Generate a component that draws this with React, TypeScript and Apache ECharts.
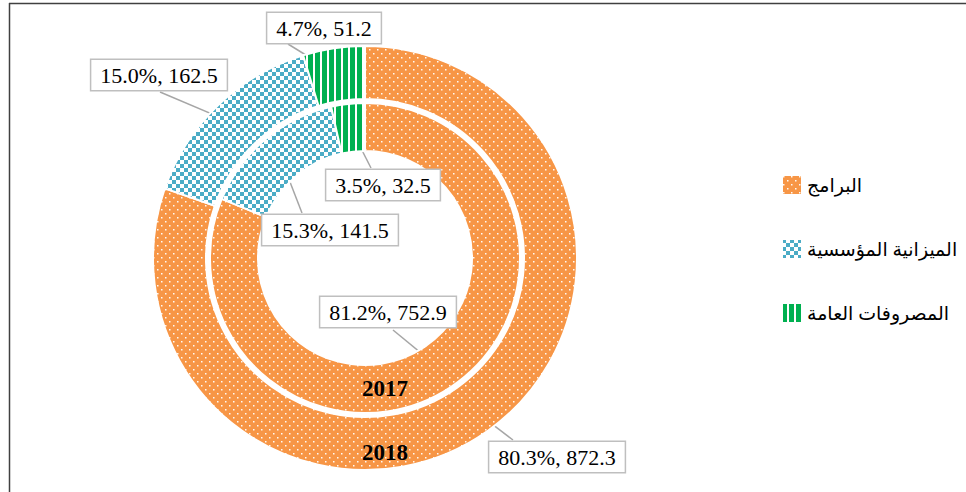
import React, { useEffect, useRef } from "react";
import * as echarts from "echarts";

const categories = ["البرامج", "الميزانية المؤسسية", "المصروفات العامة"];
const values2018 = [872.3, 162.5, 51.2];
const values2017 = [752.9, 141.5, 32.5];
const yearLabels = ["2018", "2017"];

// style / layout configuration (not data)
const CENTER = [365, 258];
const OUTER_RADIUS = [159, 212];
const INNER_RADIUS = [107, 155];
// label box centres and leader-line end points, per series (outer, inner) and data index
const LABEL_STYLE_POS = [
  [
    { x: 557, y: 457, ex: 513, ey: 440 },
    { x: 159, y: 75, ex: 160, ey: 92 },
    { x: 324, y: 28, ex: 288, ey: 44 },
  ],
  [
    { x: 388, y: 312, ex: 393, ey: 330 },
    { x: 330, y: 230, ex: 302, ey: 213 },
    { x: 383, y: 185, ex: 371, ey: 168 },
  ],
];

function makeCanvas(w: number, h: number, scale: number, draw: (ctx: CanvasRenderingContext2D) => void) {
  const c = document.createElement("canvas");
  c.width = w * scale;
  c.height = h * scale;
  const ctx = c.getContext("2d")!;
  ctx.scale(scale, scale);
  draw(ctx);
  return { image: c, repeat: "repeat", imageWidth: w, imageHeight: h };
}

function patterns() {
  const orange = makeCanvas(8, 8, 4, (ctx) => {
    ctx.fillStyle = "#F79646";
    ctx.fillRect(0, 0, 8, 8);
    ctx.fillStyle = "rgba(255,255,255,0.95)";
    ctx.fillRect(1, 1, 1.5, 1.5);
    ctx.fillRect(5, 5, 1.5, 1.5);
  });
  const blue = makeCanvas(8, 8, 1, (ctx) => {
    ctx.fillStyle = "#FFFFFF";
    ctx.fillRect(0, 0, 8, 8);
    ctx.fillStyle = "#4BACC6";
    ctx.fillRect(0, 0, 4, 4);
    ctx.fillRect(4, 4, 4, 4);
  });
  const green = makeCanvas(7, 7, 1, (ctx) => {
    ctx.fillStyle = "#00B050";
    ctx.fillRect(0, 0, 7, 7);
    ctx.fillStyle = "#FFFFFF";
    ctx.fillRect(5, 0, 2, 7);
  });
  return [orange, blue, green];
}

export default function App() {
  const ref = useRef<HTMLDivElement>(null);

  useEffect(() => {
    if (!ref.current) return;
    const chart = echarts.init(ref.current, undefined, { renderer: "svg" });
    const fills = patterns();
    const seriesValues = [values2018, values2017];
    const radii = [OUTER_RADIUS, INNER_RADIUS];

    const midPoint = (si: number, di: number) => {
      const vals = seriesValues[si];
      const total = vals.reduce((a, b) => a + b, 0);
      let before = 0;
      for (let i = 0; i < di; i++) before += vals[i];
      const frac = (before + vals[di] / 2) / total;
      const ang = frac * Math.PI * 2; // clockwise from top
      const r = (radii[si][0] + radii[si][1]) / 2;
      return [CENTER[0] + r * Math.sin(ang), CENTER[1] - r * Math.cos(ang)];
    };

    const labelLayout = (params: any) => {
      const cfg = LABEL_STYLE_POS[params.seriesIndex][params.dataIndex];
      return {
        x: cfg.x,
        y: cfg.y,
        align: "center",
        verticalAlign: "middle",
        labelLinePoints: [midPoint(params.seriesIndex, params.dataIndex), [cfg.ex, cfg.ey]],
      };
    };

    const makeSeries = (name: string, vals: number[], radius: number[]) => ({
      type: "pie",
      name,
      center: CENTER,
      radius,
      startAngle: 90,
      clockwise: true,
      avoidLabelOverlap: false,
      itemStyle: { borderColor: "#FFFFFF", borderWidth: 2 },
      emphasis: { disabled: true },
      label: {
        show: true,
        position: "outside",
        formatter: (p: any) => `${p.percent.toFixed(1)}%, ${p.value}`,
        fontFamily: "'Times New Roman', 'Liberation Serif', serif",
        fontSize: 22,
        color: "#000000",
        backgroundColor: "#FFFFFF",
        borderColor: "#BFBFBF",
        borderWidth: 1.5,
        padding: [5, 9, 3, 9],
      },
      labelLine: { show: true, lineStyle: { color: "#A6A6A6", width: 1.5 } },
      labelLayout,
      data: categories.map((c, i) => ({ name: c, value: vals[i], itemStyle: { color: fills[i] } })),
    });

    chart.setOption({
      animation: false,
      backgroundColor: "#FFFFFF",
      legend: {
        orient: "vertical",
        left: 776,
        top: 169,
        itemWidth: 20,
        itemHeight: 20,
        itemGap: 42,
        icon: "rect",
        data: categories,
        textStyle: {
          fontSize: 19,
          color: "#000000",
          fontFamily: "'Times New Roman', 'DejaVu Sans', serif",
        },
      },
      graphic: [
        { type: "line", shape: { x1: 9, y1: 3.5, x2: 966, y2: 3.5 }, style: { stroke: "#404040", lineWidth: 1.5 } },
        { type: "line", shape: { x1: 9.5, y1: 3, x2: 9.5, y2: 492 }, style: { stroke: "#404040", lineWidth: 1.5 } },
        {
          type: "text",
          x: 385,
          y: 452,
          style: {
            text: yearLabels[0],
            fontSize: 23,
            fontWeight: "bold",
            fontFamily: "'Times New Roman', 'Liberation Serif', serif",
            fill: "#000000",
            align: "center",
            verticalAlign: "middle",
          },
          z: 100,
        },
        {
          type: "text",
          x: 385,
          y: 388,
          style: {
            text: yearLabels[1],
            fontSize: 23,
            fontWeight: "bold",
            fontFamily: "'Times New Roman', 'Liberation Serif', serif",
            fill: "#000000",
            align: "center",
            verticalAlign: "middle",
          },
          z: 100,
        },
      ],
      series: [makeSeries(yearLabels[0], values2018, OUTER_RADIUS), makeSeries(yearLabels[1], values2017, INNER_RADIUS)],
    });

    return () => chart.dispose();
  }, []);

  return (
    <div
      ref={ref}
      style={{ position: "absolute", left: 0, top: 0, width: 966, height: 492 }}
    />
  );
}
